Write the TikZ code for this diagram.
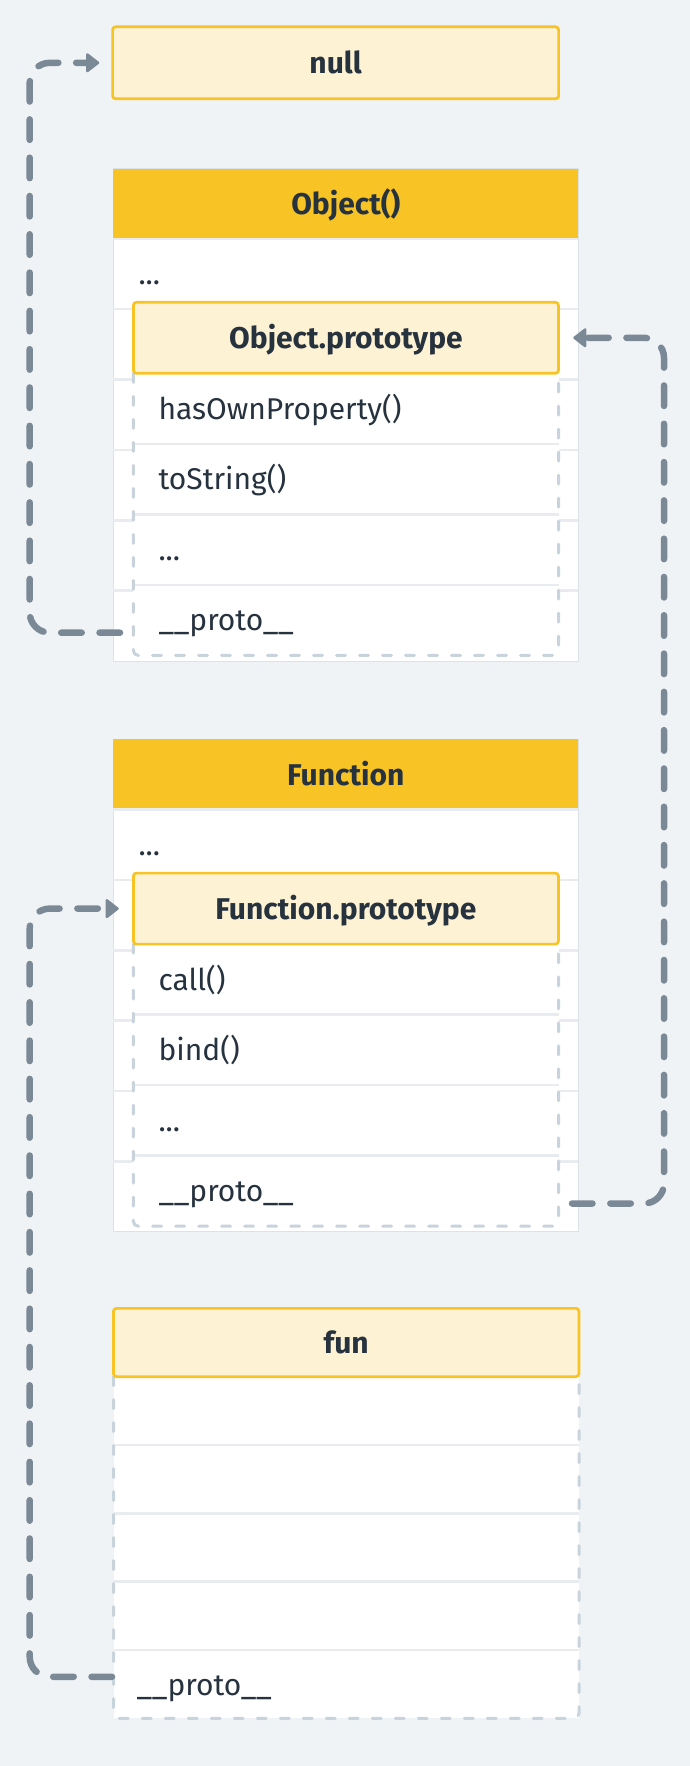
\documentclass[tikz,border=0pt]{standalone}
\usepackage{fontspec}
\setmainfont{Fira Sans}
\usetikzlibrary{arrows.meta}
\definecolor{bg}{HTML}{EFF3F6}
\definecolor{gold}{HTML}{F7C325}
\definecolor{cream}{HTML}{FDF2D3}
\definecolor{ink}{HTML}{27323F}
\definecolor{wire}{HTML}{7B8896}
\definecolor{faint}{HTML}{C9D3DC}
\definecolor{rule}{HTML}{E8ECF1}
\definecolor{frame}{HTML}{DDE2E7}
\begin{document}
\begin{tikzpicture}[x=1pt, y=-1pt,
	every node/.style={text=ink, font=\fontsize{30}{36}\selectfont, text height=21.6pt, text depth=0pt, inner sep=0pt},
	head/.style={font=\fontsize{30}{36}\selectfont\bfseries},
	protohead/.style={head, draw=gold, line width=2.7pt, fill=cream, rounded corners=3pt},
	rowtext/.style={anchor=west},
	sep/.style={rule, line width=2.5pt},
	protoedge/.style={faint, line width=3pt, line cap=round, dash pattern=on 9pt off 14pt, rounded corners=5pt},
	link/.style={wire, line width=6.5pt, line cap=round, dash pattern=on 20.5pt off 17.8pt, rounded corners=20pt, -{Triangle[length=14pt, width=21pt, line width=2.5pt, round]}}
]
	\fill[bg] (0, 0) rectangle (690, 1766);

	\node[protohead, minimum width=446pt, minimum height=72pt] (null) at (335.6, 62.8) {null};

	\foreach \dy/\id/\title/\ptitle/\ma/\mb in {0/obj/Object()/Object.prototype/hasOwnProperty()/toString(), 570.8/fn/Function/Function.prototype/call()/bind()}{
		\begin{scope}[yshift=-\dy pt]
			\filldraw[fill=white, draw=frame, line width=1pt] (113.3, 168.5) rectangle (578.3, 661);
			\fill[gold] (113.3, 168.5) rectangle (578.3, 238.5);
			\node[head] (\id) at (345.8, 203.5) {\title};
			\foreach \y in {238.9, 309.2, 379.6, 449.9, 520.3, 590.6}{
				\draw[sep] (113.3, \y) -- (578.3, \y);
			}
			\node[rowtext] (\id-dots) at (138.3, 274) {...};

			\fill[white] (133.3, 302.3) rectangle (558.5, 655.4);
			\foreach \y in {443.8, 514.3, 584.8}{
				\draw[sep] (133.3, \y) -- (558.5, \y);
			}
			\draw[protoedge] (133.3, 373.3) -- (133.3, 655.4) -- (558.5, 655.4) -- (558.5, 373.3);
			\node[protohead, minimum width=425pt, minimum height=71pt] (\id-proto) at (345.9, 337.8) {\ptitle};
			\node[rowtext] (\id-ma) at (158.3, 408.6) {\ma};
			\node[rowtext] (\id-mb) at (158.3, 479) {\mb};
			\node[rowtext] (\id-more) at (158.3, 549.5) {...};
			\node[rowtext] (\id-link) at (158.3, 620) {\_\_proto\_\_};
			\coordinate (\id-west) at (120, 632.7);
			\coordinate (\id-east) at (572, 632.7);
		\end{scope}
	}

	\fill[white] (113.5, 1376.7) rectangle (579, 1718.3);
	\foreach \y in {1445, 1513.3, 1581.6, 1650}{
		\draw[sep] (113.5, \y) -- (579, \y);
	}
	\draw[protoedge] (113.5, 1376.7) -- (113.5, 1718.3) -- (579, 1718.3) -- (579, 1376.7);
	\node[protohead, minimum width=465.5pt, minimum height=68.3pt] (fun) at (346.2, 1342.5) {fun};
	\node[rowtext] (fun-link) at (136.4, 1684.2) {\_\_proto\_\_};
	\coordinate (fun-west) at (112, 1676.8);

	\coordinate (lane) at (29.7, 0);
	\coordinate (rlane) at (664, 0);
	\draw[link, shorten >=12pt] (obj-west) -| (lane |- null) -- (null);
	\draw[link, shorten >=13.5pt] (fn-east) -| (rlane |- obj-proto) -- (obj-proto);
	\draw[link, shorten >=13.3pt] (fun-west) -| (lane |- fn-proto) -- (fn-proto);
\end{tikzpicture}
\end{document}
